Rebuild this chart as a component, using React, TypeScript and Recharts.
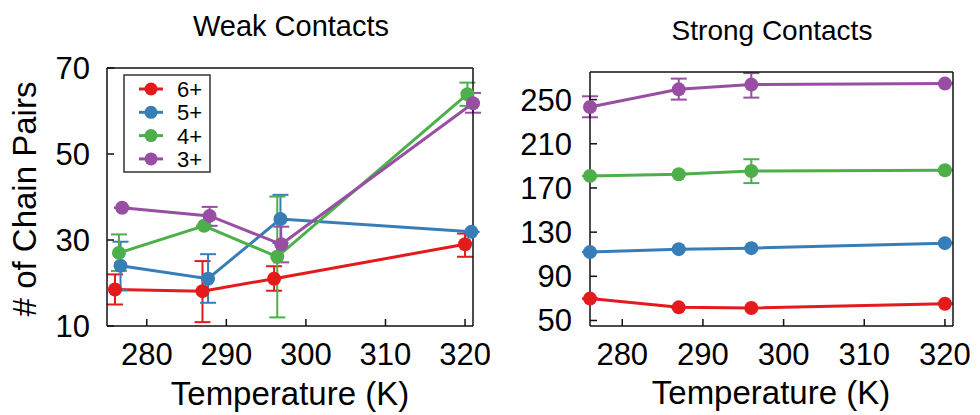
import React from 'react';
import { LineChart, Line, XAxis, YAxis, ErrorBar } from 'recharts';

const seriesNames = ['6+', '5+', '4+', '3+'];
const seriesColors = ['#e41a1c', '#377eb8', '#4daf4a', '#984ea3'];
const xTicks = [280, 290, 300, 310, 320];

// Weak contacts (left panel)
const weakRedX = [276, 287, 296, 320];
const weakRedY = [18.5, 18.1, 21.0, 29.0];
const weakRedErr = [[3.5, 3.5], [7.2, 7.0], [2.8, 2.9], [2.9, 2.5]];
const weakBlueX = [276.7, 287.7, 296.8, 320.8];
const weakBlueY = [24.0, 21.0, 34.9, 31.9];
const weakBlueErr = [[5.7, 5.6], [5.6, 5.7], [5.6, 5.6], [0, 0]];
const weakGreenX = [276.5, 287.2, 296.4, 320.3];
const weakGreenY = [27.0, 33.3, 26.1, 63.9];
const weakGreenErr = [[4.2, 4.3], [0, 0], [14.1, 14.0], [2.7, 2.7]];
const weakPurpleX = [276.9, 287.9, 296.9, 321];
const weakPurpleY = [37.5, 35.6, 29.0, 61.8];
const weakPurpleErr = [[0, 0], [2.3, 2.1], [4.2, 4.1], [2.2, 2.4]];
const weakYTicks = [10, 30, 50, 70];

// Strong contacts (right panel)
const strongX = [276, 287, 296, 320];
const strongRedY = [69.8, 61.9, 61.3, 65.2];
const strongRedErr = [[0, 0], [0, 0], [0, 0], [0, 0]];
const strongBlueY = [111.9, 114.6, 115.5, 120.0];
const strongBlueErr = [[0, 0], [0, 0], [0, 0], [0, 0]];
const strongGreenY = [180.9, 182.4, 185.4, 186.0];
const strongGreenErr = [[0, 0], [0, 0], [11.0, 10.6], [0, 0]];
const strongPurpleY = [243.3, 259.3, 263.6, 264.5];
const strongPurpleErr = [[9.3, 9.7], [9.3, 9.7], [11.8, 10.4], [0, 0]];
const strongYTicks = [50, 90, 130, 170, 210, 250];

const build = (xs: number[], ys: number[], errs: number[][]) =>
  xs.map((x, i) => ({ x, y: ys[i], err: errs[i] }));

const weakSeries = [
  build(weakRedX, weakRedY, weakRedErr),
  build(weakBlueX, weakBlueY, weakBlueErr),
  build(weakGreenX, weakGreenY, weakGreenErr),
  build(weakPurpleX, weakPurpleY, weakPurpleErr),
];
const strongSeries = [
  build(strongX, strongRedY, strongRedErr),
  build(strongX, strongBlueY, strongBlueErr),
  build(strongX, strongGreenY, strongGreenErr),
  build(strongX, strongPurpleY, strongPurpleErr),
];

const FONT = '"Liberation Sans", Arial, Helvetica, sans-serif';
const tickStyle = { fontSize: 31, fill: '#000', fontFamily: FONT };
const axisLineStyle = { stroke: '#111', strokeWidth: 1.5 };
const EmptyTick = () => <g />;

type PanelProps = {
  series: { x: number; y: number; err: number[] }[][];
  xDomain: [number, number];
  yDomain: [number, number];
  yTicks: number[];
  width: number;
  leftW: number;
  marginTop: number;
  marginRight: number;
  tickMarginY: number;
};

function Panel(p: PanelProps) {
  return (
    <LineChart
      width={p.width}
      height={415}
      margin={{ top: p.marginTop, right: p.marginRight, bottom: 0, left: 0 }}
    >
      <XAxis
        xAxisId="b"
        type="number"
        dataKey="x"
        domain={p.xDomain}
        ticks={xTicks}
        orientation="bottom"
        height={89}
        tickSize={-7}
        tickMargin={24}
        tick={tickStyle}
        axisLine={axisLineStyle}
        tickLine={axisLineStyle}
        allowDecimals={false}
      />
      <XAxis
        xAxisId="t"
        type="number"
        dataKey="x"
        domain={p.xDomain}
        ticks={xTicks}
        orientation="top"
        height={10}
        tickSize={-7}
        tick={EmptyTick}
        axisLine={axisLineStyle}
        tickLine={axisLineStyle}
      />
      <YAxis
        yAxisId="l"
        type="number"
        domain={p.yDomain}
        ticks={p.yTicks}
        orientation="left"
        width={p.leftW}
        tickSize={-7}
        tickMargin={p.tickMarginY}
        tick={tickStyle}
        axisLine={axisLineStyle}
        tickLine={axisLineStyle}
      />
      <YAxis
        yAxisId="r"
        type="number"
        domain={p.yDomain}
        ticks={p.yTicks}
        orientation="right"
        width={10}
        tickSize={-7}
        tick={EmptyTick}
        axisLine={axisLineStyle}
        tickLine={axisLineStyle}
      />
      {p.series.map((data, i) => (
        <Line
          key={seriesNames[i]}
          xAxisId="b"
          yAxisId="l"
          data={data}
          dataKey="y"
          name={seriesNames[i]}
          stroke={seriesColors[i]}
          strokeWidth={3}
          dot={{ r: 7, fill: seriesColors[i], stroke: seriesColors[i], strokeWidth: 0 }}
          activeDot={false}
          isAnimationActive={false}
        >
          <ErrorBar
            dataKey="err"
            direction="y"
            width={8}
            strokeWidth={2}
            stroke={seriesColors[i]}
            isAnimationActive={false}
          />
        </Line>
      ))}
    </LineChart>
  );
}

export default function App() {
  return (
    <div style={{ position: 'absolute', left: 0, top: 0, width: 980, height: 415, background: '#fff' }}>
      <div style={{ position: 'absolute', left: 0, top: 0 }}>
        <Panel
          series={weakSeries}
          xDomain={[275, 321]}
          yDomain={[10, 70]}
          yTicks={weakYTicks}
          width={490}
          leftW={107}
          marginTop={58}
          marginRight={7}
          tickMarginY={24}
        />
      </div>
      <div style={{ position: 'absolute', left: 500, top: 0 }}>
        <Panel
          series={strongSeries}
          xDomain={[276, 321]}
          yDomain={[45, 275]}
          yTicks={strongYTicks}
          width={480}
          leftW={90}
          marginTop={62}
          marginRight={17}
          tickMarginY={25}
        />
      </div>
      <svg
        width={980}
        height={415}
        style={{ position: 'absolute', left: 0, top: 0, pointerEvents: 'none' }}
        fontFamily={FONT}
      >
        <text x={291} y={36} fontSize={29} textAnchor="middle" fill="#000">Weak Contacts</text>
        <text x={772} y={40} fontSize={28} textAnchor="middle" fill="#000">Strong Contacts</text>
        <text x={290} y={405} fontSize={33} textAnchor="middle" fill="#000">Temperature (K)</text>
        <text x={771} y={404} fontSize={33} textAnchor="middle" fill="#000">Temperature (K)</text>
        <text x={36} y={199} fontSize={33} textAnchor="middle" fill="#000" transform="rotate(-90 36 199)">
          # of Chain Pairs
        </text>
        <rect x={124} y={75} width={86} height={97} fill="#fff" stroke="#333" strokeWidth={1.5} />
        {seriesNames.map((name, i) => {
          const cy = 89 + i * 23.3;
          return (
            <g key={name}>
              <line x1={139} x2={163} y1={cy} y2={cy} stroke={seriesColors[i]} strokeWidth={3} />
              <circle cx={151} cy={cy} r={6.5} fill={seriesColors[i]} />
              <text x={177} y={cy + 8} fontSize={22} fill="#000">{name}</text>
            </g>
          );
        })}
      </svg>
    </div>
  );
}
